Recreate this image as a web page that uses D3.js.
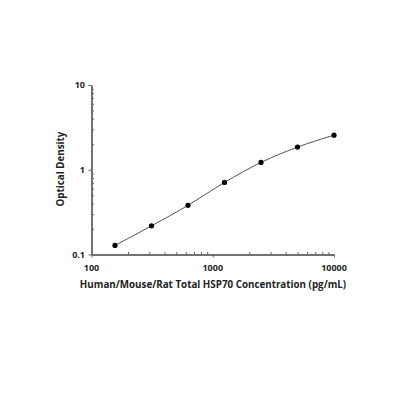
<!DOCTYPE html>
<html><head><meta charset="utf-8">
<script src="https://cdn.jsdelivr.net/npm/d3@7"></script>
<style>body{margin:0;background:#fff}</style>
</head><body>
<svg id="c" width="400" height="400"></svg>
<script>
const conc = [156.25, 312.5, 625, 1250, 2500, 5000, 10000];
const od = [0.128, 0.218, 0.38, 0.709, 1.22, 1.85, 2.56];
const xTickLabels = ["100", "1000", "10000"];
const yTickLabels = ["0.1", "1", "10"];
const xTitle = "Human/Mouse/Rat Total HSP70 Concentration (pg/mL)";
const yTitle = "Optical Density";

const svg = d3.select("#c");
const x = d3.scaleLog().domain([100, 10000]).range([91.5, 334]);
const y = d3.scaleLog().domain([0.1, 10]).range([254.5, 85]);
const font = "'Open Sans', 'DejaVu Sans', sans-serif";

const xMinor = [];
for (let d = 100; d < 10000; d *= 10) for (let k = 2; k <= 9; k++) xMinor.push(d * k);
const yMinor = [];
for (let d = 0.1; d < 10; d *= 10) for (let k = 2; k <= 9; k++) yMinor.push(+(d * k).toPrecision(3));

// x axis
const gx = svg.append("g").attr("transform", `translate(0,${y(0.1)})`);
gx.call(d3.axisBottom(x).tickValues(xTickLabels.map(Number)).tickSize(3).tickFormat("").tickSizeOuter(0));
gx.append("g").call(d3.axisTop(x).tickValues(xMinor).tickSize(2.5).tickFormat("").tickSizeOuter(0));
gx.selectAll("path.domain").attr("stroke", "#444");
gx.selectAll(".tick line").attr("stroke", "#666");
xTickLabels.forEach(t => {
  svg.append("text").attr("x", x(+t)).attr("y", 271).attr("text-anchor", "middle")
    .attr("font-family", font).attr("font-size", 9).attr("font-weight", 700).attr("fill", "#222").text(t);
});

// y axis
const gy = svg.append("g").attr("transform", `translate(${x(100)},0)`);
gy.call(d3.axisLeft(y).tickValues(yTickLabels.map(Number)).tickSize(3).tickFormat("").tickSizeOuter(0));
gy.append("g").call(d3.axisRight(y).tickValues(yMinor).tickSize(2.5).tickFormat("").tickSizeOuter(0));
gy.selectAll("path.domain").attr("stroke", "#444");
gy.selectAll(".tick line").attr("stroke", "#666");
yTickLabels.forEach(t => {
  svg.append("text").attr("x", 85).attr("y", y(+t) + 3).attr("text-anchor", "end")
    .attr("font-family", font).attr("font-size", 9).attr("font-weight", 700).attr("fill", "#222").text(t);
});

// titles
svg.append("text").attr("x", 213).attr("y", 288).attr("text-anchor", "middle")
  .attr("font-family", font).attr("font-size", 9.8).attr("font-weight", 700).attr("fill", "#222").text(xTitle);
svg.append("text").attr("transform", `translate(64,169) rotate(-90)`).attr("text-anchor", "middle")
  .attr("font-family", font).attr("font-size", 9.8).attr("font-weight", 700).attr("fill", "#222").text(yTitle);

// curve
const line = d3.line().x(d => x(d[0])).y(d => y(d[1])).curve(d3.curveMonotoneX);
svg.append("path").datum(conc.map((c, i) => [c, od[i]])).attr("d", line)
  .attr("fill", "none").attr("stroke", "#555").attr("stroke-width", 1);

svg.selectAll("circle.pt").data(conc).join("circle").attr("class", "pt")
  .attr("cx", d => x(d)).attr("cy", (d, i) => y(od[i])).attr("r", 2.6).attr("fill", "#000");
</script>
</body></html>
